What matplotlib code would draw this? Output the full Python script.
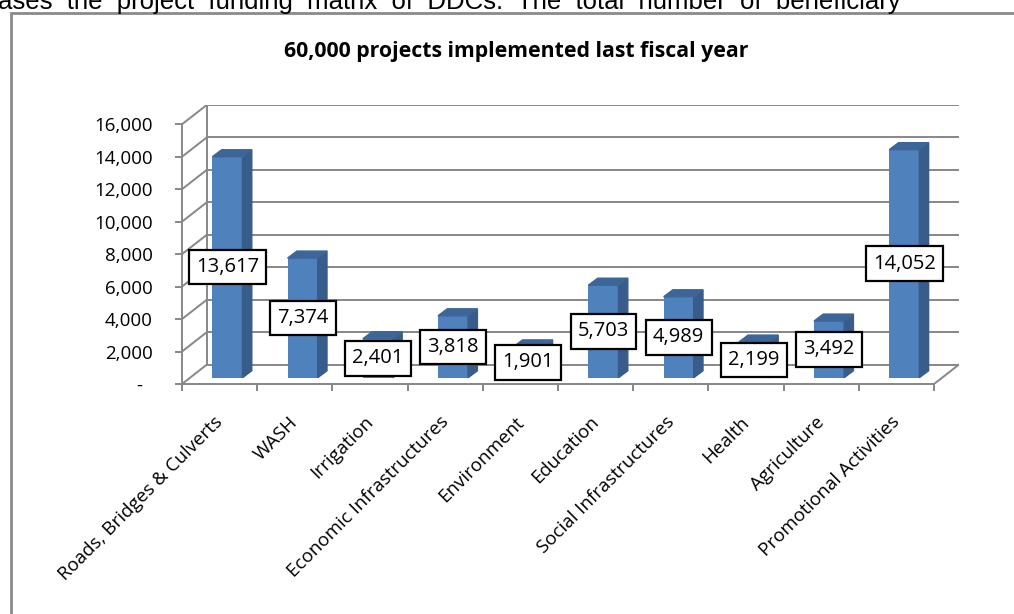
import matplotlib.pyplot as plt
from matplotlib.patches import Rectangle
from matplotlib.transforms import offset_copy

# Projects per sector
categories = ['Roads, Bridges & Culverts', 'WASH', 'Irrigation', 'Economic Infrastructures',
              'Environment', 'Education', 'Social Infrastructures', 'Health', 'Agriculture',
              'Promotional Activities']
projects = [13617, 7374, 2401, 3818, 1901, 5703, 4989, 2199, 3492, 14052]
y_ticks = [0, 2000, 4000, 6000, 8000, 10000, 12000, 14000, 16000]
y_tick_labels = ['-  ', '2,000', '4,000', '6,000', '8,000', '10,000', '12,000', '14,000', '16,000']
title = '60,000 projects implemented last fiscal year'
page_text = 'ases  the  project  funding  matrix  of  DDCs.  The  total  number  of  beneficiary'

plt.rcParams['font.family'] = ['Open Sans', 'DejaVu Sans']

W, H = 1014, 614
fig = plt.figure(figsize=(W / 100, H / 100), dpi=100)

FRONT = '#4F81BD'
SIDE = '#385D8A'
TOP = '#3C6598'
GRID = '#878787'

# fake 3d: depth of the floor/walls and of each column, in data units
DX, DY = 0.332, 1200
BDX, BDY = 0.124, 430
BAR_W = 0.4
n = len(categories)

ax = fig.add_axes([182 / W, (H - 384) / H, (959 - 182) / W, (384 - 104.8) / H])
ax.set_xlim(-0.5, n - 0.5 + DX)
ax.set_ylim(0, y_ticks[-1] + DY)
ax.patch.set_alpha(0)

for s in ['top', 'right']:
    ax.spines[s].set_visible(False)
ax.spines['left'].set_bounds(0, y_ticks[-1])
ax.spines['bottom'].set_bounds(-0.5, n - 0.5)
for s in ['left', 'bottom']:
    ax.spines[s].set_color(GRID)
    ax.spines[s].set_linewidth(1.4)
    ax.spines[s].set_zorder(4)

# back wall, side wall and floor edges
for v in y_ticks:
    ax.plot([-0.5 + DX, n - 0.5 + DX], [v + DY, v + DY], color=GRID, lw=1.4, zorder=1)
    ax.plot([-0.5, -0.5 + DX], [v, v + DY], color=GRID, lw=1.4, zorder=1)
ax.plot([-0.5 + DX, -0.5 + DX], [DY, y_ticks[-1] + DY], color=GRID, lw=1.4, zorder=1)
ax.plot([n - 0.5, n - 0.5 + DX], [0, DY], color=GRID, lw=1.4, zorder=1)

# columns
base = (DY - BDY) / 2
for i, v in enumerate(projects):
    c = i + (DX - BDX) / 2
    l, r = c - BAR_W / 2, c + BAR_W / 2
    ax.bar(c, v, width=BAR_W, bottom=base, color=FRONT, zorder=3)
    ax.fill([r, r + BDX, r + BDX, r], [base, base + BDY, base + v + BDY, base + v],
            color=SIDE, zorder=3)
    ax.fill([l, r, r + BDX, l + BDX], [base + v, base + v, base + v + BDY, base + v + BDY],
            color=TOP, zorder=3)
    ax.text(c, base + v / 2, f'{v:,}', ha='center', va='center', fontsize=14.5, zorder=6,
            bbox=dict(boxstyle='square,pad=0.36', fc='white', ec='black', lw=1.6))

ax.set_yticks(y_ticks, y_tick_labels)
ax.tick_params(axis='y', length=5, width=1.4, color=GRID, pad=16, labelsize=13.5)
ax.set_xticks([i - 0.5 for i in range(n + 1)], [])
ax.tick_params(axis='x', length=5, width=1.4, color=GRID)

lbl_tr = offset_copy(ax.get_xaxis_transform(), fig=fig, x=-1, y=-34, units='dots')
for i, name in enumerate(categories):
    ax.text(i, 0, name, transform=lbl_tr, rotation=45, rotation_mode='anchor',
            ha='right', va='center_baseline', fontsize=13.5)

fig.text(516 / W, 1 - 51 / H, title, ha='center', va='center', fontsize=15.3, fontweight='bold')

# chart frame and the line of page text above it
fig.add_artist(Rectangle((11 / W, -0.1), 1.1, 1.1 - 13 / H, transform=fig.transFigure,
                         fill=False, ec='#8a8a8a', lw=2))
fig.text(-2 / W, 1 - 9 / H, page_text, va='baseline', fontsize=18.5,
         family=['Liberation Sans', 'DejaVu Sans'])

fig.savefig('out.png', dpi=100)
